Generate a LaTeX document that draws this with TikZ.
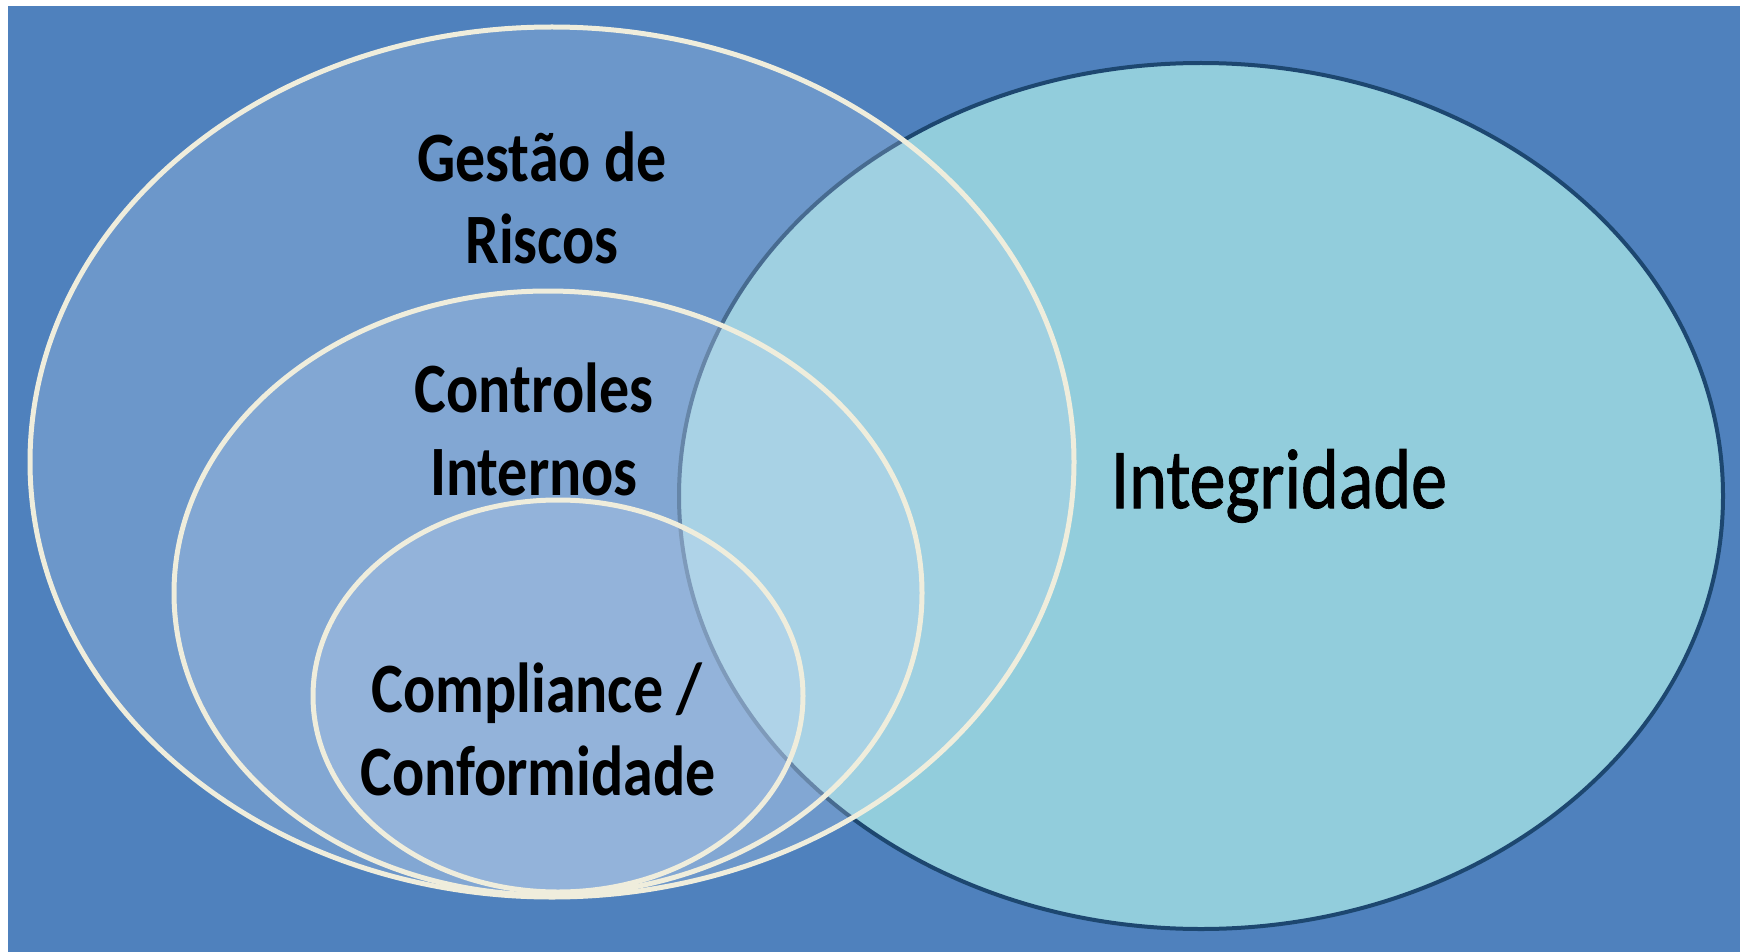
\documentclass[tikz,border=0pt]{standalone}
\usepackage{fontspec}
\setmainfont{Carlito}
\newfontfamily\integfont[FakeBold=1.2]{Carlito}
\definecolor{bgblue}{HTML}{4F81BD}
\definecolor{aqua}{HTML}{92CDDC}
\definecolor{navy}{HTML}{1D4770}
\definecolor{cream}{HTML}{EFEDDC}
\definecolor{tint}{HTML}{C6D9F1}
\begin{document}
\begin{tikzpicture}[x=1pt,y=-1pt,
  setring/.style={draw=cream, line width=5pt, fill=tint, fill opacity=0.25, draw opacity=1},
  integ/.style={draw=navy, line width=4pt, fill=aqua},
  lbl/.style={font=\fontsize{60}{72}\selectfont\bfseries, text=black, anchor=base, inner sep=0pt},
  biglbl/.style={font=\integfont\fontsize{72}{86}\selectfont, text=black, anchor=base, inner sep=0pt}]
\useasboundingbox (0,0) rectangle (1740,952);
\fill[white] (0,0) rectangle (1740,952);
\fill[bgblue] (8,6) rectangle (1740,952);
% Integridade
\draw[integ] (1201,496) ellipse [x radius=522pt, y radius=433pt];
% nested sets
\draw[setring] (552,462) ellipse [x radius=522pt, y radius=435pt];
\draw[setring] (548,593) ellipse [x radius=374pt, y radius=302pt];
\draw[setring] (558,696) ellipse [x radius=245pt, y radius=196pt];
% labels
\node[lbl] (g1) at (542,182) {\scalebox{1}[1.18]{Gestão de}};
\node[lbl] (g2) at (542,263) {\scalebox{1}[1.18]{Riscos}};
\node[lbl] (c1) at (534,412) {\scalebox{1}[1.18]{Controles}};
\node[lbl] (c2) at (534,495) {\scalebox{1}[1.18]{Internos}};
\node[lbl] (k1) at (537,712) {\scalebox{1}[1.18]{Compliance /}};
\node[lbl] (k2) at (538,795) {\scalebox{1}[1.18]{Conformidade}};
\node[biglbl] (ig) at (1279,508) {\scalebox{1}[1.18]{Integridade}};
\end{tikzpicture}
\end{document}
